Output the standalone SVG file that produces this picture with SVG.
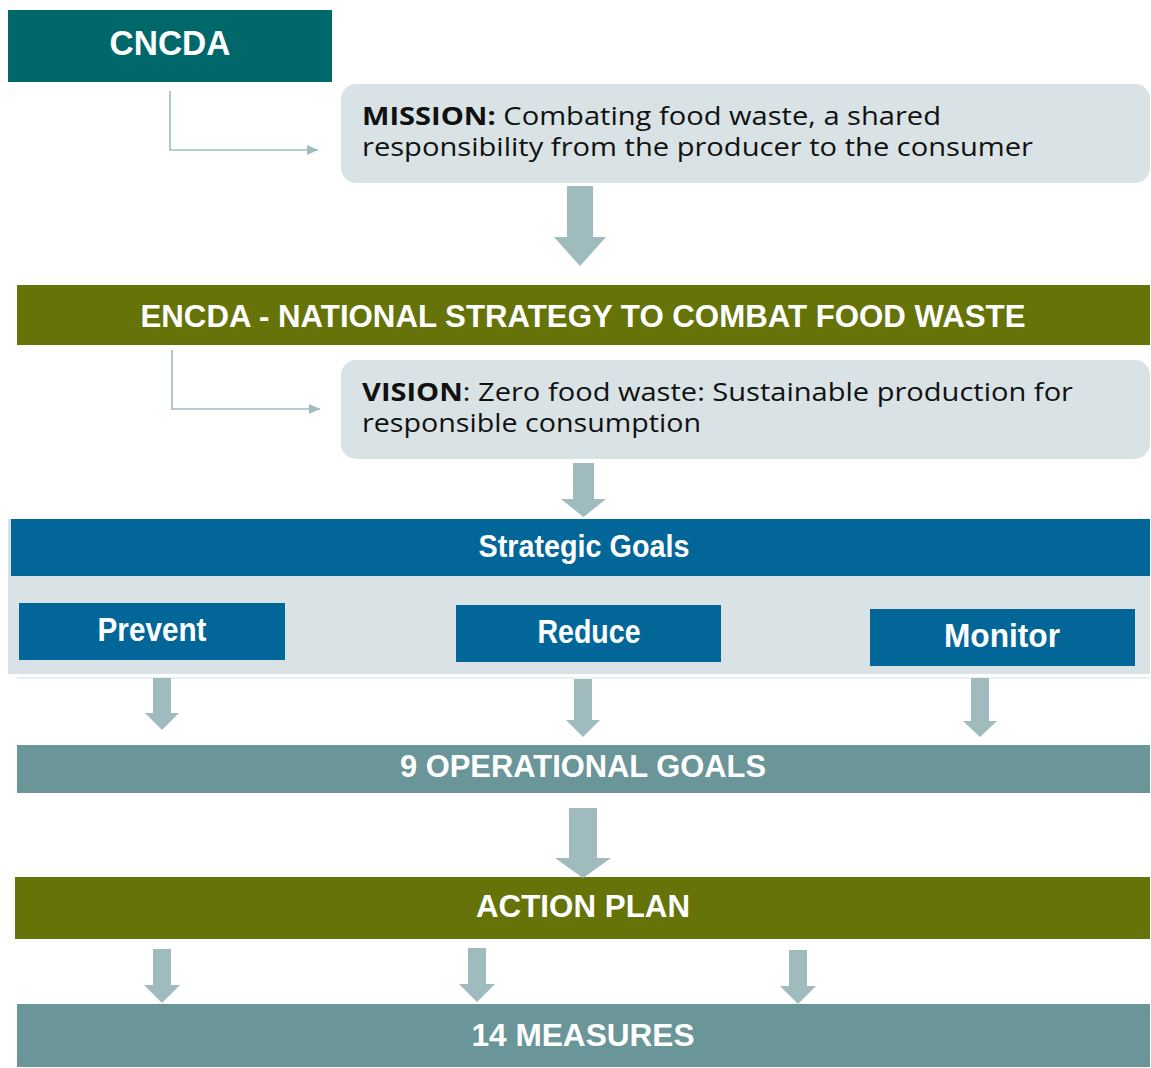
<svg xmlns="http://www.w3.org/2000/svg" width="1151" height="1068" viewBox="0 0 1151 1068">
  <defs>
    <marker id="tip" markerWidth="11" markerHeight="10" refX="11" refY="5" orient="auto" markerUnits="userSpaceOnUse">
      <path d="M0,0 L11,5 L0,10 Z" fill="#A0BCC0"/>
    </marker>
    <style>
      .bar-text { font-family: "Liberation Sans", Arial, sans-serif; font-weight: bold; fill: #ffffff; text-anchor: middle; }
      .goal-text { font-family: "Liberation Sans", Arial, sans-serif; font-weight: bold; fill: #ffffff; text-anchor: middle; }
      .box-text { font-family: "Open Sans", "DejaVu Sans", sans-serif; fill: #111111; font-size: 25px; }
      .teal { fill: #00686A; }
      .olive { fill: #657309; }
      .steel { fill: #6A9599; }
      .blue { fill: #036699; }
      .pale { fill: #D9E3E5; }
      .block-arrow { fill: #A0BBBE; }
      .link { fill: none; stroke: #A0BCC0; stroke-width: 1.6; }
    </style>
  </defs>

  <rect width="1151" height="1068" fill="#ffffff"/>

  <!-- CNCDA -->
  <g id="cncda">
    <rect class="teal" x="8" y="10" width="324" height="72"/>
    <text class="bar-text" x="170" y="55" font-size="35" textLength="121" lengthAdjust="spacingAndGlyphs">CNCDA</text>
  </g>

  <!-- Mission -->
  <g id="mission">
    <rect class="pale" x="341" y="84" width="809" height="99" rx="15" ry="15"/>
    <text class="box-text" x="362" y="125" textLength="579" lengthAdjust="spacingAndGlyphs"><tspan font-weight="bold">MISSION:</tspan> Combating food waste, a shared</text>
    <text class="box-text" x="362" y="156" textLength="671" lengthAdjust="spacingAndGlyphs">responsibility from the producer to the consumer</text>
  </g>

  <!-- National strategy -->
  <g id="encda">
    <rect class="olive" x="17" y="285" width="1133" height="60"/>
    <text class="bar-text" x="583" y="327" font-size="31" textLength="885" lengthAdjust="spacingAndGlyphs">ENCDA - NATIONAL STRATEGY TO COMBAT FOOD WASTE</text>
  </g>

  <!-- Vision -->
  <g id="vision">
    <rect class="pale" x="341" y="360" width="809" height="99" rx="15" ry="15"/>
    <text class="box-text" x="362" y="401" textLength="711" lengthAdjust="spacingAndGlyphs"><tspan font-weight="bold">VISION</tspan>: Zero food waste: Sustainable production for</text>
    <text class="box-text" x="362" y="432" textLength="339" lengthAdjust="spacingAndGlyphs">responsible consumption</text>
  </g>

  <!-- Strategic goals panel -->
  <g id="strategic-goals">
    <rect class="pale" x="8" y="519" width="1142" height="155"/>
    <rect class="blue" x="11" y="519" width="1139" height="57"/>
    <text class="goal-text" x="584" y="557" font-size="32" textLength="211" lengthAdjust="spacingAndGlyphs">Strategic Goals</text>
    <line x1="17" y1="678" x2="1150" y2="678" stroke="#E3ECEC" stroke-width="1.5"/>
  </g>

  <g id="prevent">
    <rect class="blue" x="19" y="603" width="266" height="57"/>
    <text class="goal-text" x="152" y="641" font-size="34" textLength="109" lengthAdjust="spacingAndGlyphs">Prevent</text>
  </g>

  <g id="reduce">
    <rect class="blue" x="456" y="605" width="265" height="57"/>
    <text class="goal-text" x="589" y="643" font-size="34" textLength="103" lengthAdjust="spacingAndGlyphs">Reduce</text>
  </g>

  <g id="monitor">
    <rect class="blue" x="870" y="609" width="265" height="57"/>
    <text class="goal-text" x="1002" y="647" font-size="34" textLength="116" lengthAdjust="spacingAndGlyphs">Monitor</text>
  </g>

  <!-- Operational goals -->
  <g id="operational-goals">
    <rect class="steel" x="17" y="745" width="1133" height="48"/>
    <text class="bar-text" x="583" y="777" font-size="31" textLength="366" lengthAdjust="spacingAndGlyphs">9 OPERATIONAL GOALS</text>
  </g>

  <!-- Action plan -->
  <g id="action-plan">
    <rect class="olive" x="15" y="877" width="1135" height="62"/>
    <text class="bar-text" x="583" y="917" font-size="31" textLength="214" lengthAdjust="spacingAndGlyphs">ACTION PLAN</text>
  </g>

  <!-- Measures -->
  <g id="measures">
    <rect class="steel" x="17" y="1004" width="1133" height="63"/>
    <text class="bar-text" x="583" y="1046" font-size="31" textLength="223" lengthAdjust="spacingAndGlyphs">14 MEASURES</text>
  </g>

  <!-- Connectors -->
  <g id="connectors">
    <polyline class="link" points="170,91 170,150 318,150" marker-end="url(#tip)"/>
    <polyline class="link" points="172,350 172,409 320,409" marker-end="url(#tip)"/>

    <polygon class="block-arrow" points="567,186 593,186 593,237 606,237 580,266 554,237 567,237"/>
    <polygon class="block-arrow" points="573,463 594,463 594,499 606,499 583.5,517 561,499 573,499"/>

    <polygon class="block-arrow" points="153,678 171,678 171,713 179,713 162,730 145,713 153,713"/>
    <polygon class="block-arrow" points="574,679 592,679 592,720 600,720 583,737 566,720 574,720"/>
    <polygon class="block-arrow" points="971,678 989,678 989,721 997,721 980,737 963,721 971,721"/>

    <polygon class="block-arrow" points="569,808 597,808 597,858 611,858 583,878 555,858 569,858"/>

    <polygon class="block-arrow" points="153,949 171,949 171,985 180,985 162,1003 144,985 153,985"/>
    <polygon class="block-arrow" points="468,948 486,948 486,984 495,984 477,1002 459,984 468,984"/>
    <polygon class="block-arrow" points="789,950 807,950 807,986 816,986 798,1004 780,986 789,986"/>
  </g>
</svg>
